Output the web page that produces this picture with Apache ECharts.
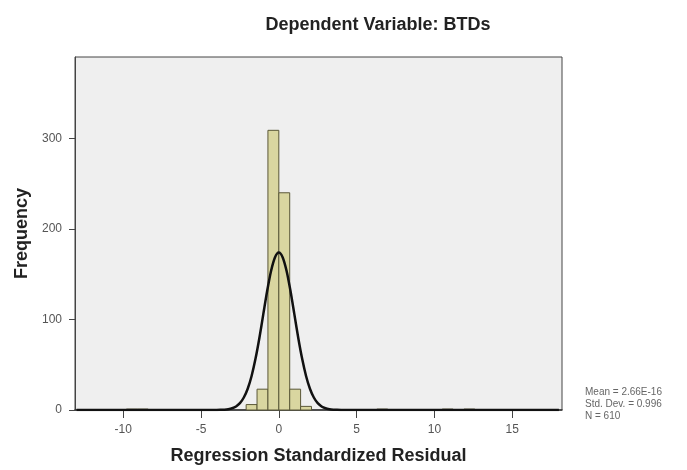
<!DOCTYPE html>
<html>
<head>
<meta charset="utf-8">
<title>Histogram - BTDs</title>
<script src="https://cdn.jsdelivr.net/npm/echarts@6/dist/echarts.min.js"></script>
<style>
  html, body { margin: 0; padding: 0; background: #fff; }
  #chart { width: 687px; height: 470px; }
</style>
</head>
<body>
<div id="chart"></div>
<script>
// histogram bins (left edge, right edge, count)
const binLeft  = [-9.8, -9.1, -2.1, -1.4, -0.7, 0.0, 0.7, 1.4, 6.3, 10.5, 11.9];
const binRight = [-9.1, -8.4, -1.4, -0.7, 0.0, 0.7, 1.4, 2.1, 7.0, 11.2, 12.6];
const binCount = [1, 1, 6, 23, 309, 240, 23, 4, 1, 1, 1];

// normal curve
const curveX = [-13, -4, -3.75, -3.5, -3.25, -3, -2.75, -2.5, -2.25, -2, -1.75, -1.5, -1.25, -1, -0.75, -0.5, -0.25,
  0, 0.25, 0.5, 0.75, 1, 1.25, 1.5, 1.75, 2, 2.25, 2.5, 2.75, 3, 3.25, 3.5, 3.75, 4, 18];
const curveY = [0, 0.1, 0.2, 0.4, 0.9, 1.9, 3.9, 7.6, 13.8, 23.5, 37.6, 56.5, 79.6, 105.6, 131.4, 153.6, 168.6,
  174, 168.6, 153.6, 131.4, 105.6, 79.6, 56.5, 37.6, 23.5, 13.8, 7.6, 3.9, 1.9, 0.9, 0.4, 0.2, 0.1, 0];

// axis ticks
const xTicks = [-10, -5, 0, 5, 10, 15];
const yTicks = [0, 100, 200, 300];

// stats box
const statLines = ['Mean = 2.66E-16', 'Std. Dev. = 0.996', 'N = 610'];

const font = '"Liberation Sans", Arial, sans-serif';
const myChart = echarts.init(document.getElementById('chart'));

const histData = binLeft.map((l, i) => [l, binRight[i], binCount[i]]);
const curveData = curveX.map((x, i) => [x, curveY[i]]);

const option = {
  animation: false,
  title: {
    text: 'Dependent Variable: BTDs',
    left: 373,
    top: 11,
    textAlign: 'center',
    textStyle: { fontFamily: font, fontSize: 18, fontWeight: 'bold', color: '#222' }
  },
  grid: {
    left: 75, right: 125, top: 57, bottom: 56,
    show: true,
    backgroundColor: '#efefef',
    borderColor: '#444',
    borderWidth: 1
  },
  xAxis: {
    type: 'value',
    min: -13.1,
    max: 18.2,
    name: 'Regression Standardized Residual',
    nameLocation: 'middle',
    nameGap: 37,
    nameTextStyle: { fontFamily: font, fontSize: 18, fontWeight: 'bold', color: '#222' },
    axisLine: { show: true, onZero: false, lineStyle: { color: '#333', width: 1.5 } },
    axisTick: { show: true, length: 8, customValues: xTicks, lineStyle: { color: '#444' } },
    axisLabel: { customValues: xTicks, margin: 14, fontFamily: font, fontSize: 12, color: '#555' },
    splitLine: { show: false }
  },
  yAxis: {
    type: 'value',
    min: 0,
    max: 390,
    name: 'Frequency',
    nameLocation: 'middle',
    nameGap: 42,
    nameTextStyle: { fontFamily: font, fontSize: 18, fontWeight: 'bold', color: '#222' },
    axisLine: { show: true, onZero: false, lineStyle: { color: '#444' } },
    axisTick: { show: true, length: 6, customValues: yTicks, lineStyle: { color: '#444' } },
    axisLabel: { customValues: yTicks, margin: 13, fontFamily: font, fontSize: 12, color: '#555' },
    splitLine: { show: false }
  },
  graphic: statLines.map((t, i) => ({
    type: 'text',
    left: 585,
    top: 387 + i * 12,
    style: { text: t, fontFamily: font, fontSize: 10, fill: '#666' }
  })),
  series: [
    {
      name: 'Histogram',
      type: 'custom',
      data: histData,
      encode: { x: [0, 1], y: 2 },
      renderItem: function (params, api) {
        const p0 = api.coord([api.value(0), 0]);
        const p1 = api.coord([api.value(1), api.value(2)]);
        return {
          type: 'rect',
          shape: { x: p0[0], y: p1[1], width: p1[0] - p0[0], height: p0[1] - p1[1] },
          style: { fill: '#d9d6a0', stroke: '#5a5838', lineWidth: 1 }
        };
      }
    },
    {
      name: 'Normal',
      type: 'line',
      data: curveData,
      smooth: 0.3,
      showSymbol: false,
      clip: true,
      lineStyle: { color: '#111', width: 2.5 },
      z: 5
    }
  ]
};
option && myChart.setOption(option);
</script>
</body>
</html>
